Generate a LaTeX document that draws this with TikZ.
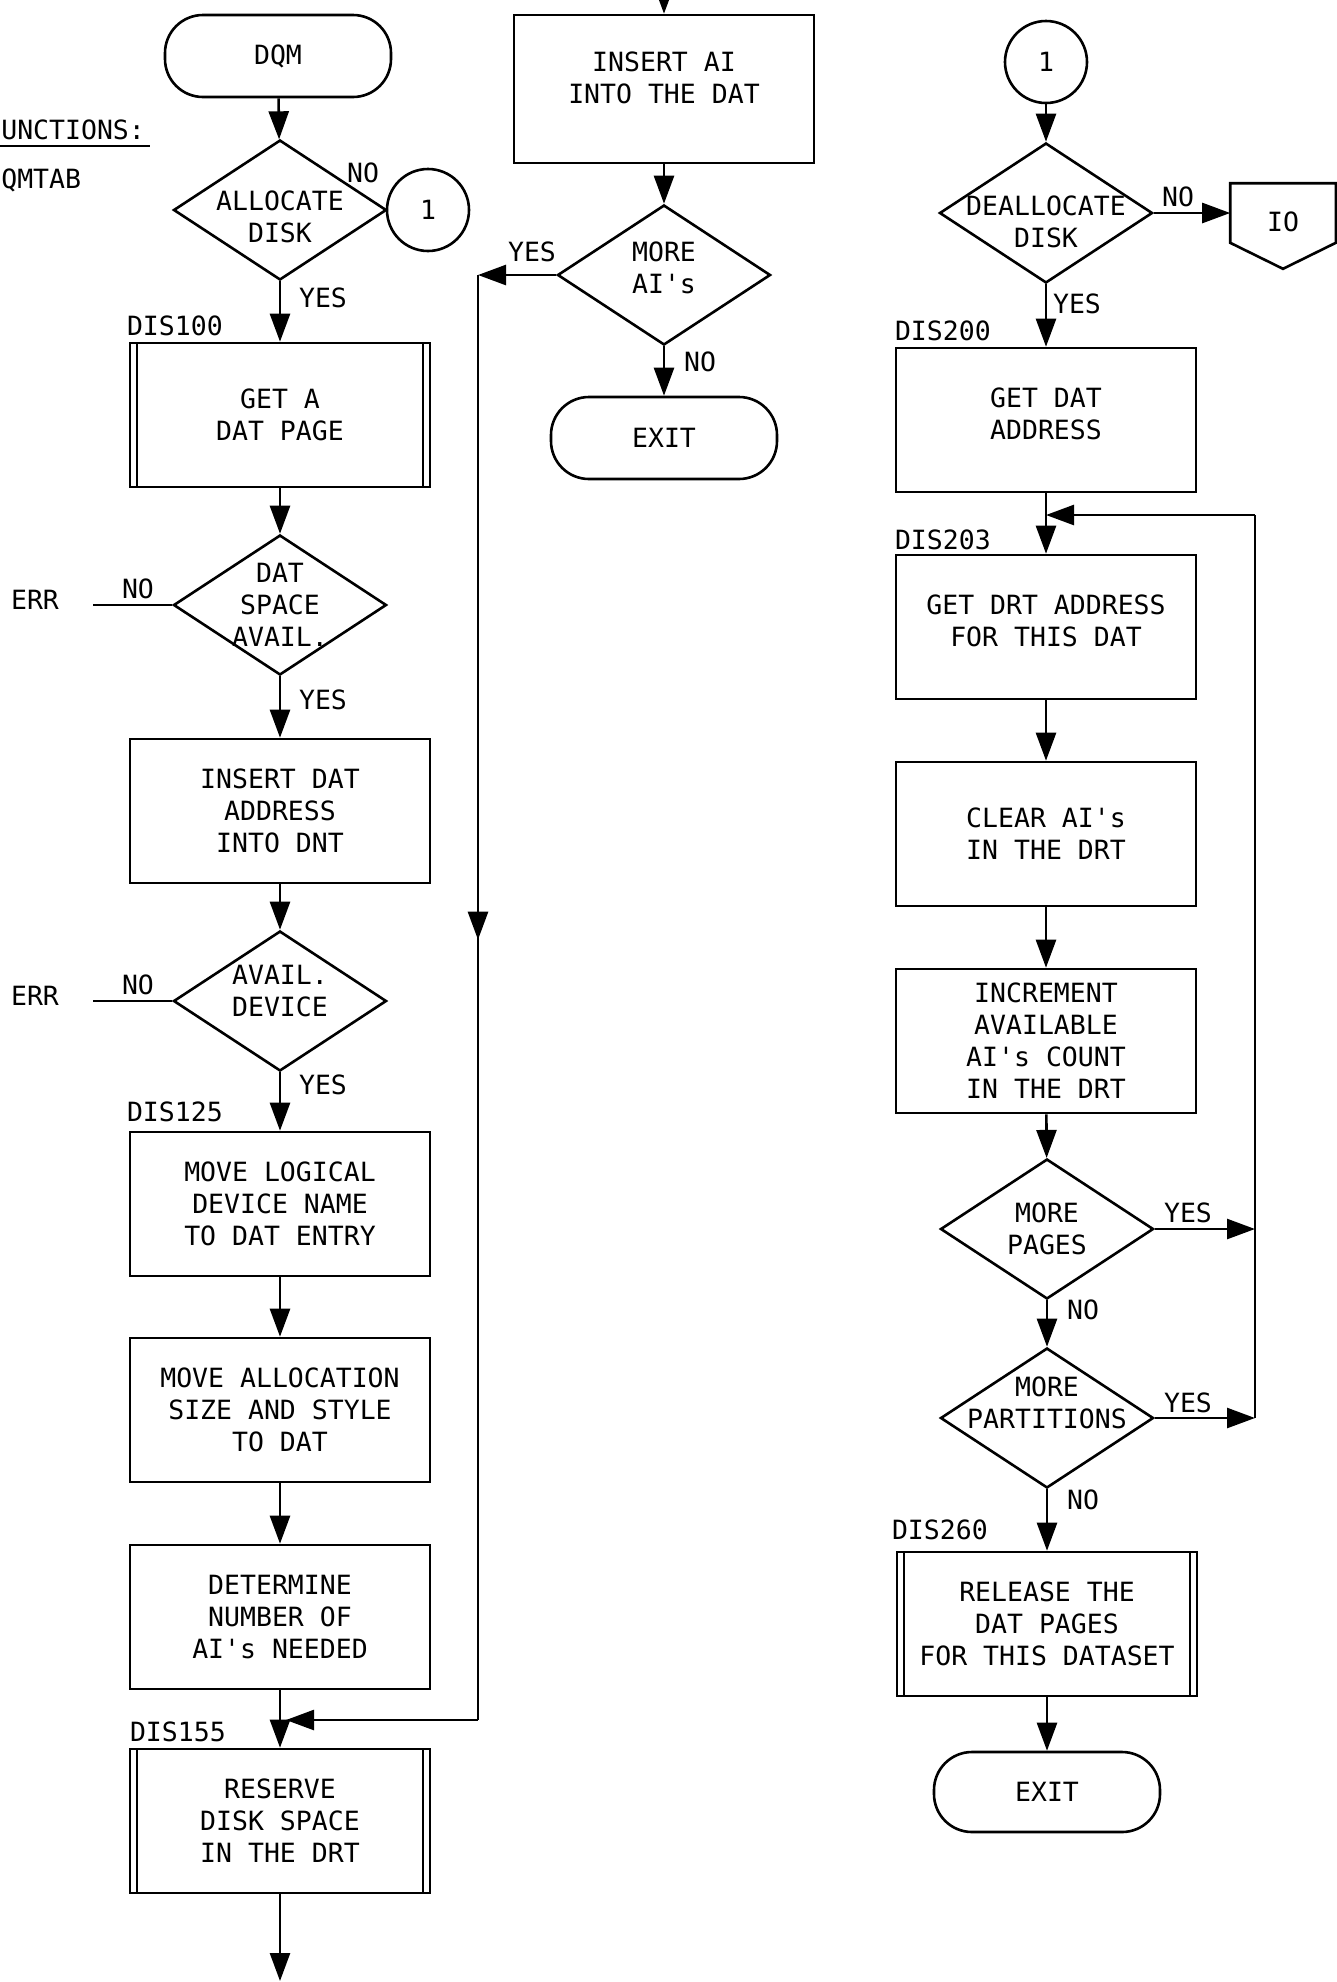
\documentclass[tikz,border=0pt]{standalone}
\usepackage{fontspec}
\setmonofont{DejaVu Sans Mono}
\usetikzlibrary{arrows.meta,positioning,calc,shapes.geometric,decorations.markings}

\tikzset{
  proc/.style={draw, minimum width=300pt, minimum height=144pt, inner sep=4pt, align=center},
  predef/.style={proc, path picture={
    \draw[line width=2pt] ([xshift=7pt]path picture bounding box.north west) -- ([xshift=7pt]path picture bounding box.south west)
      ([xshift=-7pt]path picture bounding box.north east) -- ([xshift=-7pt]path picture bounding box.south east);}},
  term/.style={draw, rounded corners=38pt, minimum width=226pt, minimum height=82pt},
  decision/.style={diamond, draw, minimum width=213pt, minimum height=140pt, inner sep=0pt},
  dtext/.style={align=center, inner sep=0pt},
  conn/.style={circle, draw, minimum size=82pt, inner sep=0pt},
  offpage/.style={minimum width=103pt, minimum height=57pt, inner sep=0pt, text height=37pt, text depth=0pt},
  lbl/.style={inner sep=0pt},
  tag/.style={inner sep=0pt},
  arr/.style={-{Triangle[length=28pt,width=20pt]}},
  midarr/.style={postaction={decorate}, decoration={markings,
    mark=at position 0.46 with {\arrow{Triangle[length=28pt,width=20pt]}}}}
}

\begin{document}
\begin{tikzpicture}[x=1pt, y=-1pt, line width=2.6pt, font=\ttfamily\fontsize{26.5pt}{32pt}\selectfont]
\useasboundingbox (0,0) rectangle (1337,1982);

% heading at the left edge
\node[lbl, anchor=west] (fnhead) at (0,130) {UNCTIONS:};
\draw[line width=2pt] ([yshift=-5pt]fnhead.south west) -- ([yshift=-5pt,xshift=4pt]fnhead.south east);
\node[lbl, anchor=west] (fnname) at (0,180) {QMTAB};

% first column
\node[term] (dqm) at (278,56) {DQM};
\node[decision, label={[dtext,yshift=-7pt]center:{ALLOCATE\\DISK}}] (alloc) at (280,210) {};
\node[conn] (c1a) at (428,210) {1};
\node[predef] (getpage) at (280,415) {GET A\\DAT PAGE};
\node[decision, label={[dtext]center:{DAT\\SPACE\\AVAIL.}}] (dspace) at (280,605) {};
\node[proc] (insdat) at (280,811) {INSERT DAT\\ADDRESS\\INTO DNT};
\node[decision, label={[dtext,yshift=10pt]center:{AVAIL.\\DEVICE}}] (avdev) at (280,1001) {};
\node[proc] (movelog) at (280,1204) {MOVE LOGICAL\\DEVICE NAME\\TO DAT ENTRY};
\node[proc] (movesize) at (280,1410) {MOVE ALLOCATION\\SIZE AND STYLE\\TO DAT};
\node[proc] (determ) at (280,1617) {DETERMINE\\NUMBER OF\\AI's NEEDED};
\node[predef] (reserve) at (280,1821) {RESERVE\\DISK SPACE\\IN THE DRT};

\node[tag] (t100) [above right=5pt and -3pt of getpage.north west] {DIS100};
\node[tag] (t125) [above right=8pt and -3pt of movelog.north west] {DIS125};
\node[tag] (t155) [above right=5pt and 0pt of reserve.north west] {DIS155};

\node[lbl] (noA) at (363,173) {NO};
\node[lbl] (yesA) at (323,298) {YES};
\node[lbl] (yesB) at (323,700) {YES};
\node[lbl] (noB) at (138,589) {NO};
\node[lbl] (errB) at (35,600) {ERR};
\node[lbl] (yesC) at (323,1085) {YES};
\node[lbl] (noC) at (138,985) {NO};
\node[lbl] (errC) at (35,996) {ERR};

\coordinate (errBend) at (93,605);
\coordinate (errCend) at (93,1001);
\coordinate (outA) at (280,1981);

\draw[arr] (dqm) -- (alloc);
\draw (alloc.east) -- (c1a.west);
\draw[arr] (alloc) -- (getpage);
\draw[arr] (getpage) -- (dspace);
\draw (dspace.west) -- (errBend);
\draw[arr] (dspace) -- (insdat);
\draw[arr] (insdat) -- (avdev);
\draw (avdev.west) -- (errCend);
\draw[arr] (avdev) -- (movelog);
\draw[arr] (movelog) -- (movesize);
\draw[arr] (movesize) -- (determ);
\draw[arr] (determ) -- (reserve);
\draw[arr] (reserve) -- (outA);

% second column
\coordinate (inB) at (664,0);
\node[proc, minimum height=148pt, text depth=22pt] (insai) at (664,89) {INSERT AI\\INTO THE DAT};
\node[decision, label={[dtext,yshift=7pt]center:{MORE\\AI's}}] (moreai) at (664,275) {};
\node[term] (exitA) at (664,438) {EXIT};
\node[lbl] (yesD) at (532,252) {YES};
\node[lbl] (noD) at (700,362) {NO};

\draw[arr] (inB) -- (insai);
\draw[arr] (insai) -- (moreai);
\draw[arr] (moreai) -- (exitA);

% loop back to DIS155
\coordinate (loopTop) at (478,275);
\coordinate (loopBot) at (478,1720);
\coordinate (loopJoin) at (286,1720);
\draw[arr] (moreai.west) -- (loopTop);
\draw[midarr] (loopTop) -- (loopBot);
\draw[arr] (loopBot) -- (loopJoin);

% third column
\node[conn] (c1b) at (1046,62) {1};
\node[decision, label={[dtext,yshift=-9pt]center:{DEALLOCATE\\DISK}}] (dealloc) at (1046,213) {};
\node[offpage] (io) at (1283,213) {IO};
\draw (io.north west) -- (io.north east) -- (io.south east) -- ([yshift=-26pt]io.south) -- (io.south west) -- cycle;
\node[proc, text depth=12pt] (getdat) at (1046,420) {GET DAT\\ADDRESS};
\node[proc, text depth=12pt] (getdrt) at (1046,627) {GET DRT ADDRESS\\FOR THIS DAT};
\node[proc] (clear) at (1046,834) {CLEAR AI's\\IN THE DRT};
\node[proc] (incr) at (1046,1041) {INCREMENT\\AVAILABLE\\AI's COUNT\\IN THE DRT};
\node[decision, label={[dtext]center:{MORE\\PAGES}}] (morepg) at (1047,1229) {};
\node[decision, label={[dtext,yshift=15pt]center:{MORE\\PARTITIONS}}] (morept) at (1047,1418) {};
\node[predef] (release) at (1047,1624) {RELEASE THE\\DAT PAGES\\FOR THIS DATASET};
\node[term, minimum height=80pt] (exitB) at (1047,1792) {EXIT};

\node[tag] (t200) [above right=5pt and -1pt of getdat.north west] {DIS200};
\node[tag] (t203) [above right=3pt and -1pt of getdrt.north west] {DIS203};
\node[tag] (t260) [above right=10pt and -5pt of release.north west] {DIS260};

\node[lbl] (noE) at (1178,197) {NO};
\node[lbl] (yesE) at (1077,304) {YES};
\node[lbl] (yesF) at (1188,1213) {YES};
\node[lbl] (noF) at (1083,1310) {NO};
\node[lbl] (yesG) at (1188,1403) {YES};
\node[lbl] (noG) at (1083,1500) {NO};

\draw[arr] (c1b) -- (dealloc);
\draw[arr] (dealloc.east) -- (io.west);
\draw[arr] (dealloc) -- (getdat);
\draw[arr] (getdat) -- (getdrt);
\draw[arr] (getdrt) -- (clear);
\draw[arr] (clear) -- (incr);
\draw[arr] (incr) -- (morepg);
\draw[arr] (morepg) -- (morept);
\draw[arr] (morept) -- (release);
\draw[arr] (release) -- (exitB);

% loop back to DIS203
\coordinate (backTop) at (1255,515);
\coordinate (backJoin) at (1046,515);
\draw[arr] (morepg.east) -- (morepg.east -| backTop);
\draw[arr] (morept.east) -- (morept.east -| backTop);
\draw (morept.east -| backTop) -- (backTop);
\draw[arr] (backTop) -- (backJoin);
\end{tikzpicture}
\end{document}
